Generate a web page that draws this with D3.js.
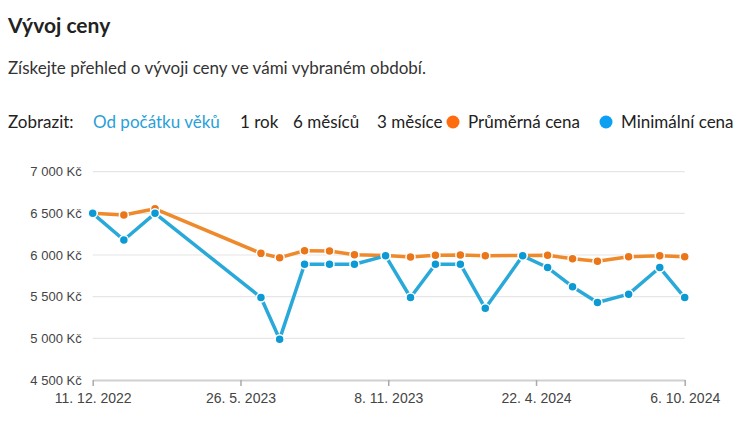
<!DOCTYPE html>
<html lang="cs">
<head>
<meta charset="utf-8">
<title>Vývoj ceny</title>
<style>
body{
  margin: 0;
  background: #fff;
}
.head text{
  font-family: Lato, "Noto Sans", sans-serif;
}
.axis text{
  font-family: "Liberation Sans", Arial, sans-serif;
  fill: #444;
}
</style>
</head>
<body>
<div id="chart"></div>
<script src="https://d3js.org/d3.v7.min.js"></script>
<script>
  // data
  const dates = ["2022-12-11", "2023-01-15", "2023-02-19", "2023-06-18", "2023-07-09",
    "2023-08-06", "2023-09-03", "2023-10-01", "2023-11-05", "2023-12-03",
    "2023-12-31", "2024-01-28", "2024-02-25", "2024-04-07", "2024-05-05",
    "2024-06-02", "2024-06-30", "2024-08-04", "2024-09-08", "2024-10-06"];
  const avgPrice = [6500, 6480, 6555, 6020, 5968, 6052, 6048, 6004, 5995, 5976,
    5996, 6000, 5992, 5995, 5996, 5956, 5924, 5980, 5992, 5980];
  const minPrice = [6500, 6180, 6500, 5490, 4990, 5890, 5890, 5890, 5990, 5490,
    5890, 5890, 5360, 5990, 5850, 5620, 5430, 5530, 5850, 5490];
  const yTicks = [4500, 5000, 5500, 6000, 6500, 7000];
  const xTickDates = ["2022-12-11", "2023-05-26", "2023-11-08", "2024-04-22", "2024-10-06"];
  const xTickLabels = ["11. 12. 2022", "26. 5. 2023", "8. 11. 2023", "22. 4. 2024", "6. 10. 2024"];
  const periods = ["Od počátku věků", "1 rok", "6 měsíců", "3 měsíce"];
  const seriesNames = ["Průměrná cena", "Minimální cena"];

  const width = 754, height = 430;
  const margin = { top: 171.7, right: 69.3, bottom: 50, left: 92.7 };

  const svg = d3.select("#chart").append("svg")
    .attr("width", width)
    .attr("height", height);

  // header
  const head = svg.append("g").attr("class", "head");
  head.append("text")
    .attr("x", 8).attr("y", 33)
    .attr("font-size", 21).attr("font-weight", 700).attr("fill", "#222")
    .text("Vývoj ceny");
  head.append("text")
    .attr("x", 8).attr("y", 74)
    .attr("font-size", 17).attr("fill", "#333")
    .text("Získejte přehled o vývoji ceny ve vámi vybraném období.");
  head.append("text")
    .attr("x", 8).attr("y", 128)
    .attr("font-size", 17).attr("fill", "#222")
    .text("Zobrazit:");
  const periodX = [93, 240, 293, 377];
  periods.forEach((p, i) => {
    head.append("text")
      .attr("x", periodX[i]).attr("y", 128)
      .attr("font-size", 17)
      .attr("fill", i === 0 ? "#2a9fd8" : "#222")
      .text(p);
  });
  const legendColors = ["#ff6c10", "#0d9ff2"];
  const legendX = [453, 606];
  seriesNames.forEach((s, i) => {
    head.append("circle")
      .attr("cx", legendX[i]).attr("cy", 122).attr("r", 6.5)
      .attr("fill", legendColors[i]);
    head.append("text")
      .attr("x", legendX[i] + 15).attr("y", 128)
      .attr("font-size", 17).attr("fill", "#222")
      .text(s);
  });

  // scales
  const parse = d3.utcParse("%Y-%m-%d");
  const x = d3.scaleUtc()
    .domain([parse(dates[0]), parse(dates[dates.length - 1])])
    .range([margin.left, width - margin.right]);
  const y = d3.scaleLinear()
    .domain([4500, 7000])
    .range([380, margin.top]);

  const cz = d3.formatLocale({ decimal: ",", thousands: "\u00a0", grouping: [3], currency: ["", "\u00a0Kč"] });
  const fmt = cz.format("$,.0f");

  // grid
  svg.append("g")
    .selectAll("line")
    .data(yTicks.slice(1))
    .join("line")
    .attr("x1", x.range()[0]).attr("x2", x.range()[1])
    .attr("y1", d => y(d)).attr("y2", d => y(d))
    .attr("stroke", "#e6e6e6").attr("stroke-width", 1.2);

  // y axis labels
  const yAxis = svg.append("g").attr("class", "axis")
    .attr("transform", `translate(${margin.left},0)`)
    .call(d3.axisLeft(y).tickValues(yTicks).tickFormat(fmt).tickSize(0).tickPadding(11));
  yAxis.select(".domain").remove();
  yAxis.selectAll("text").attr("font-size", 13);

  // x axis
  const xAxis = svg.append("g").attr("class", "axis")
    .attr("transform", "translate(0,380)")
    .call(d3.axisBottom(x)
      .tickValues(xTickDates.map(parse))
      .tickFormat((d, i) => xTickLabels[i])
      .tickSizeOuter(0).tickSizeInner(6).tickPadding(7));
  xAxis.select(".domain").attr("stroke", "#d0d0d0").attr("stroke-width", 2);
  xAxis.selectAll(".tick line").attr("stroke", "#aaa").attr("stroke-width", 1.5);
  xAxis.selectAll("text").attr("font-size", 14);

  // series
  const series = [
    { values: avgPrice, line: "#ef8a2c", dot: "#ea7619" },
    { values: minPrice, line: "#29a9d9", dot: "#0c9ad5" }
  ];
  series.forEach(s => {
    const pts = dates.map((d, i) => [parse(d), s.values[i]]);
    svg.append("path")
      .datum(pts)
      .attr("fill", "none")
      .attr("stroke", s.line)
      .attr("stroke-width", 3.5)
      .attr("stroke-linejoin", "round")
      .attr("d", d3.line().x(d => x(d[0])).y(d => y(d[1])));
    svg.append("g")
      .selectAll("circle")
      .data(pts)
      .join("circle")
      .attr("cx", d => x(d[0]))
      .attr("cy", d => y(d[1]))
      .attr("r", 4.5)
      .attr("fill", s.dot)
      .attr("stroke", "#fff")
      .attr("stroke-width", 1.5);
  });
</script>
</body>
</html>
